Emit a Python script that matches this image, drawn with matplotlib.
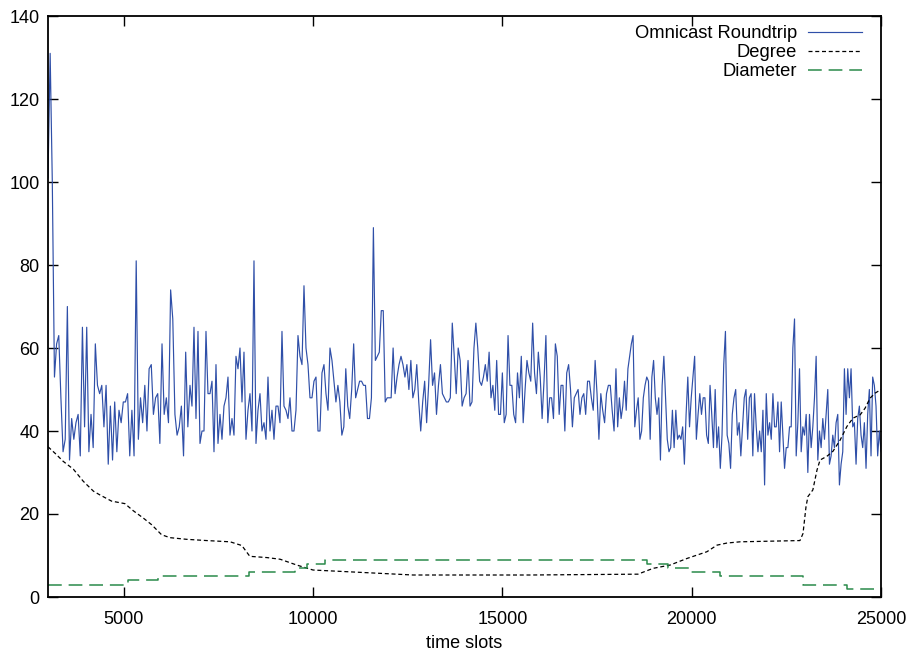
import numpy as np
import matplotlib
matplotlib.use("Agg")
import matplotlib.pyplot as plt

plt.rcParams['font.family'] = ['Liberation Sans', 'DejaVu Sans']

# Omnicast roundtrip, sampled per time window (slot ranges in seg_edges)
seg_edges = [3000, 6750, 10500, 14250, 18000, 21750, 25000]
rtt_1 = [101, 131, 100, 53, 61, 63, 48, 35, 38, 70, 33, 43, 38, 42, 44, 34, 65, 41, 65, 35,
         44, 36, 61, 51, 49, 51, 41, 51, 32, 46, 33, 47, 35, 45, 42, 47, 47, 49, 34, 45,
         34, 81, 38, 48, 42, 51, 40, 55, 56, 44, 48, 49, 37, 61, 44, 48, 42, 74, 67, 44,
         39, 41, 46, 34, 59, 41]
rtt_2 = [51, 46, 65, 43, 64, 37, 40, 40, 64, 49, 49, 52, 35, 56, 37, 44, 38, 46, 48, 53,
         39, 43, 39, 58, 55, 60, 47, 59, 38, 45, 49, 40, 81, 37, 45, 49, 40, 42, 38, 53,
         40, 45, 38, 46, 46, 42, 64, 46, 45, 43, 48, 40, 40, 45, 63, 58, 56, 75, 60, 56,
         48, 48, 52, 53, 40, 40, 54, 56, 49, 45, 60]
rtt_3 = [57, 52, 47, 51, 47, 39, 41, 55, 46, 43, 50, 61, 48, 50, 52, 52, 51, 51, 43, 43,
         48, 89, 57, 58, 59, 69, 69, 47, 48, 48, 48, 60, 49, 53, 56, 58, 56, 53, 56, 50,
         57, 48, 50, 56, 47, 40, 47, 52, 42, 51, 62, 51, 54, 44, 51, 56, 49, 48, 47, 47,
         48, 66, 58, 49, 60, 57, 46, 48, 49, 57, 46, 47]
rtt_4 = [60, 66, 60, 52, 51, 53, 56, 52, 59, 48, 51, 45, 57, 44, 44, 54, 42, 44, 63, 51,
         51, 44, 42, 54, 48, 58, 42, 50, 57, 54, 52, 66, 54, 49, 59, 53, 43, 52, 63, 42,
         48, 48, 43, 61, 58, 44, 51, 51, 40, 54, 56, 50, 41, 48, 49, 50, 44, 48, 49, 44,
         52, 52, 48, 45, 57, 49, 38, 49, 45, 42, 49, 51, 51, 45, 40]
rtt_5 = [55, 41, 48, 43, 46, 52, 45, 55, 58, 61, 63, 41, 45, 48, 38, 40, 48, 51, 53, 52,
         38, 53, 57, 48, 44, 48, 33, 51, 58, 48, 38, 35, 36, 45, 36, 45, 38, 39, 38, 41,
         32, 44, 53, 41, 48, 53, 58, 38, 44, 49, 44, 48, 48, 39, 37, 51, 44, 36, 50, 36,
         41, 31, 39, 56, 64, 39, 37, 31, 44, 48, 50, 39, 42, 34, 41, 48, 50, 38, 48, 49,
         34, 49, 41]
rtt_6 = [35, 40, 35, 45, 27, 49, 39, 42, 38, 49, 41, 41, 47, 35, 47, 39, 31, 36, 36, 41,
         41, 60, 67, 34, 42, 55, 35, 41, 39, 44, 30, 44, 36, 41, 48, 58, 33, 40, 36, 43,
         38, 44, 50, 32, 34, 39, 36, 42, 44, 27, 32, 35, 55, 44, 55, 48, 55, 41, 42, 32,
         43, 46, 39, 36, 42, 31, 44, 50, 34, 53, 51, 46, 34, 40, 35]
rtt_segments = [rtt_1, rtt_2, rtt_3, rtt_4, rtt_5, rtt_6]

# Node degree
degree_t = [3000, 3190, 3400, 3670, 3930, 4200, 4370, 4680, 5030, 5250, 5520, 5740,
            6000, 6220, 6660, 7190, 7810, 8120, 8330, 8780, 9130, 9570, 10000, 10890,
            11770, 12640, 15730, 18580, 18980, 19430, 19880, 20400, 20670, 20930, 21280,
            22860, 22940, 23020, 23070, 23200, 23310, 23390, 23570, 23730, 23920, 24100,
            24260, 24450, 24580, 24710, 24840, 25000]
degree_v = [36.2, 34.6, 32.7, 30.8, 27.9, 25.5, 24.6, 23.1, 22.5, 20.8, 19.0, 17.4,
            15.0, 14.3, 13.9, 13.6, 13.3, 12.4, 9.8, 9.5, 9.1, 7.7, 6.5, 6.1,
            5.7, 5.3, 5.3, 5.5, 6.9, 7.7, 9.3, 10.9, 12.5, 13.0, 13.3,
            13.6, 15.3, 21.8, 24.2, 25.8, 30.6, 33.0, 33.9, 35.1, 37.8, 41.1,
            43.1, 43.9, 45.5, 47.9, 49.1, 50.0]

# Network diameter (value holds from each change point)
diam_t = [3000, 5110, 5900, 8310, 9520, 9840, 10320, 18810, 19370, 19930, 20750, 22940, 24100, 25000]
diam_v = [3, 4, 5, 6, 7, 8, 9, 8, 7, 6, 5, 3, 2, 2]

x_ticks = [5000, 10000, 15000, 20000, 25000]
y_ticks = [0, 20, 40, 60, 80, 100, 120, 140]

# Build the time axis for each sampled window
rtt_t = []
for i, seg in enumerate(rtt_segments):
    last = i == len(rtt_segments) - 1
    rtt_t.append(np.linspace(seg_edges[i], seg_edges[i + 1], len(seg), endpoint=last))
rtt_t = np.concatenate(rtt_t)
rtt_v = np.concatenate([np.asarray(s, dtype=float) for s in rtt_segments])

fig = plt.figure(figsize=(9.11, 6.51), dpi=100)
ax = fig.add_axes([48 / 911, 1 - 597 / 651, (881 - 48) / 911, (597 - 16) / 651])

blue = '#2f4fa8'
green = '#2a8a4a'

ax.plot(rtt_t, rtt_v, color=blue, lw=0.85, label='Omnicast Roundtrip')
ax.plot(degree_t, degree_v, color='black', lw=0.9, dashes=(3.2, 2.2), label='Degree')
ax.step(diam_t, diam_v, where='post', color=green, lw=1.1, dashes=(9, 4.5), label='Diameter')

ax.set_xlim(3000, 25000)
ax.set_ylim(0, 140)
ax.set_xticks(x_ticks)
ax.set_yticks(y_ticks)
ax.tick_params(direction='in', length=7, width=1, top=True, right=True,
               labelsize=13, pad=10, colors='black')
ax.tick_params(axis='y', pad=6)
for sp in ax.spines.values():
    sp.set_linewidth(1.3)
ax.set_xlabel('time slots', fontsize=13, labelpad=5)

leg = ax.legend(loc='upper right', frameon=False, markerfirst=False, fontsize=13.2,
                handlelength=2.9, handletextpad=0.6, labelspacing=0.1,
                borderpad=0.2, borderaxespad=0.0, bbox_to_anchor=(0.981, 0.990))

fig.savefig('out.png', dpi=100)
